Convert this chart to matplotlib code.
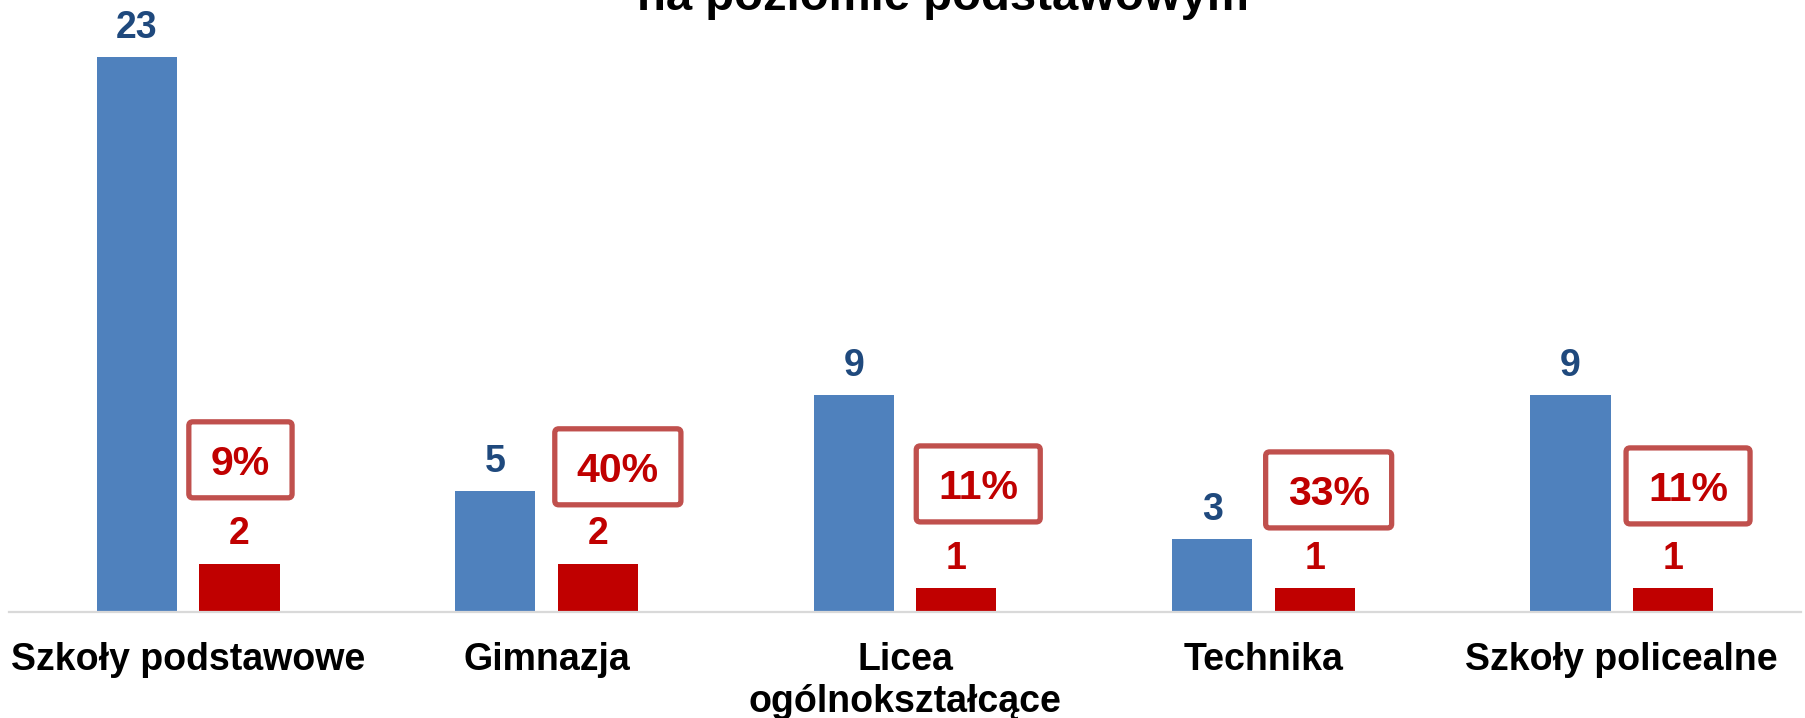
import matplotlib
matplotlib.use("Agg")
import matplotlib.pyplot as plt
from matplotlib.patches import FancyBboxPatch
import numpy as np

plt.rcParams['font.family'] = ['Liberation Sans', 'DejaVu Sans']
plt.rcParams['font.weight'] = 'bold'

categories = ["Szkoły podstawowe", "Gimnazja", "Licea\nogólnokształcące", "Technika", "Szkoły policealne"]
blue_values = [23, 5, 9, 3, 9]
red_values = [2, 2, 1, 1, 1]
pct_labels = ["9%", "40%", "11%", "33%", "11%"]
title_text = "na poziomie podstawowym"

# layout of the percentage call-out boxes (pixel offsets of box centre from red bar top)
box_dx_px = [1, 20, 22, 14, 15]
box_dy_px = [103, 96, 103, 97, 101]

BLUE = "#4F81BD"
RED = "#C00000"
BLUE_TXT = "#1F497D"
BOX_EDGE = "#C0504D"

W, H = 1806, 718
DPI = 100
fig = plt.figure(figsize=(W / DPI, H / DPI), dpi=DPI)
ax_left, ax_right, ax_base = 9, 1801, 611.7
ax = fig.add_axes([ax_left / W, (H - ax_base) / H, (ax_right - ax_left) / W, ax_base / H])

x = np.arange(len(categories))
bw = 0.224
off = 0.143
ax.bar(x - off, blue_values, bw, color=BLUE, zorder=2)
ax.bar(x + off, red_values, bw, color=RED, zorder=2)

ax.set_xlim(-0.5, len(categories) - 0.5)
ax.set_ylim(0, ax_base / 24.1)
ax.set_autoscale_on(False)

for s in ["top", "right", "left"]:
    ax.spines[s].set_visible(False)
ax.spines["bottom"].set_color("#D9D9D9")
ax.spines["bottom"].set_linewidth(1.6)
ax.set_yticks([])
ax.set_xticks(x)
ax.set_xticklabels(categories, fontsize=27, fontweight='bold', linespacing=1.2)
ax.tick_params(axis='x', length=0, pad=22)

pts = 72 / DPI
for xi, v in zip(x, blue_values):
    ax.annotate(str(v), (xi - off, v), xytext=(0, 19 * pts), textcoords='offset points',
                ha='center', va='baseline', fontsize=27, fontweight='bold', color=BLUE_TXT)

PCT_FS = 29.5
fs_px = PCT_FS / 72 * DPI
cap_px = 0.716 * fs_px
pct_texts = []
for xi, v, p, dx, dy in zip(x, red_values, pct_labels, box_dx_px, box_dy_px):
    ax.annotate(str(v), (xi + off, v), xytext=(0, 19 * pts), textcoords='offset points',
                ha='center', va='baseline', fontsize=27, fontweight='bold', color=RED)
    t = ax.annotate(p, (xi + off, v), xytext=(dx * pts, (dy - cap_px / 2) * pts),
                    textcoords='offset points', ha='center', va='baseline',
                    fontsize=PCT_FS, fontweight='bold', color=RED, zorder=6)
    pct_texts.append(t)

fig.text(943 / W, 1 - 10 / H, title_text, ha='center', va='baseline', fontsize=34,
         fontweight='bold', color='black')

fig.canvas.draw()
renderer = fig.canvas.get_renderer()
for t in pct_texts:
    bb = t.get_window_extent(renderer)
    cx = (bb.x0 + bb.x1) / 2
    base_y = bb.y0 + 0.212 * fs_px
    cy = base_y + cap_px / 2
    bw_px = bb.width + 44
    bh_px = 76
    patch = FancyBboxPatch((cx - bw_px / 2, cy - bh_px / 2), bw_px, bh_px,
                           boxstyle="round,pad=0,rounding_size=4",
                           transform=None, facecolor='white', edgecolor=BOX_EDGE,
                           linewidth=3.8, zorder=4, clip_on=False)
    ax.add_artist(patch)

fig.savefig("out.png", dpi=DPI, facecolor='white')
